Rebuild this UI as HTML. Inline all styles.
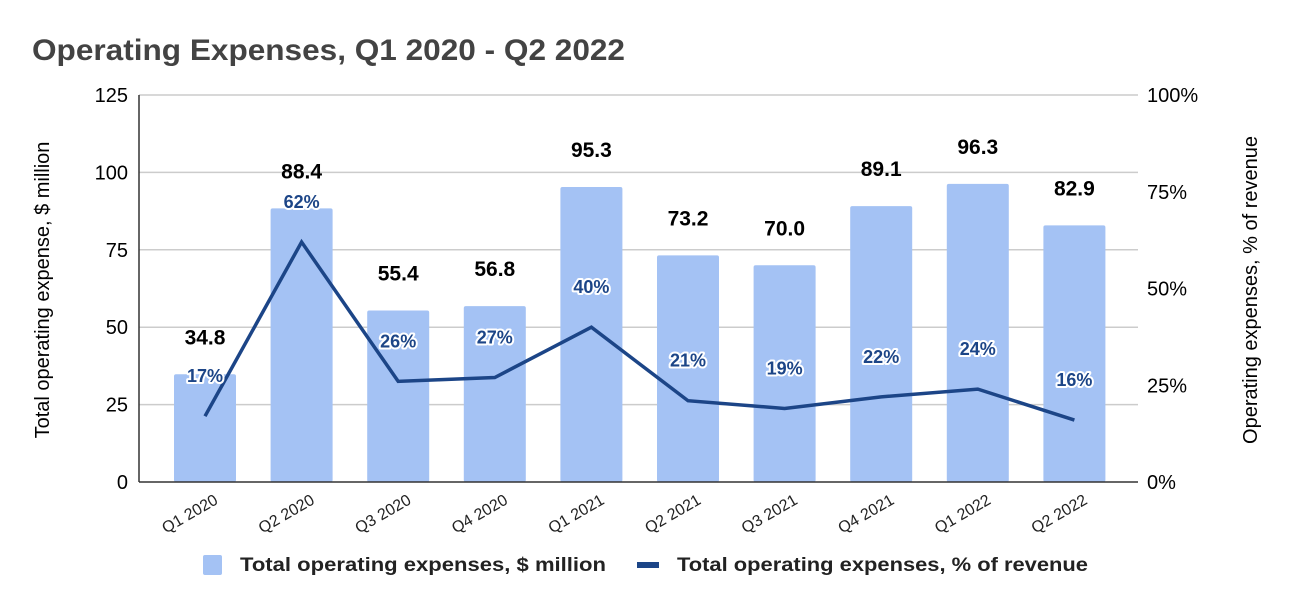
<!DOCTYPE html>
<html><head><meta charset="utf-8"><style>
html,body{margin:0;padding:0;background:#fff;}
svg{display:block;font-family:"Liberation Sans",Arial,sans-serif;}
</style></head><body>
<svg id="chart" width="1292" height="607" viewBox="0 0 1292 607" xmlns="http://www.w3.org/2000/svg">
<text x="32" y="60" font-size="30" font-weight="bold" fill="#434343" textLength="593" lengthAdjust="spacingAndGlyphs">Operating Expenses, Q1 2020 - Q2 2022</text>
<g id="grid"></g><g id="bars"></g><g id="line"></g><g id="labels"></g>
<text transform="translate(49,290) rotate(-90)" text-anchor="middle" font-size="20" fill="#000">Total operating expense, $ million</text>
<text transform="translate(1257,290) rotate(-90)" text-anchor="middle" font-size="20" fill="#000">Operating expenses, % of revenue</text>
<g>
<rect x="203" y="555" width="19" height="20" rx="2" fill="#a4c2f4"/>
<text x="240" y="571" font-size="19" font-weight="bold" fill="#222" textLength="366" lengthAdjust="spacingAndGlyphs">Total operating expenses, $ million</text>
<rect x="637" y="562" width="22" height="6" fill="#1c4587"/>
<text x="677" y="571" font-size="19" font-weight="bold" fill="#222" textLength="411" lengthAdjust="spacingAndGlyphs">Total operating expenses, % of revenue</text>
</g>
</svg>
<script>
const categories=["Q1 2020","Q2 2020","Q3 2020","Q4 2020","Q1 2021","Q2 2021","Q3 2021","Q4 2021","Q1 2022","Q2 2022"];
const expenses=[34.8,88.4,55.4,56.8,95.3,73.2,70.0,89.1,96.3,82.9];
const pctRevenue=[17,62,26,27,40,21,19,22,24,16];
const leftTicks=[0,25,50,75,100,125];
const rightTicks=[0,25,50,75,100];
const NS="http://www.w3.org/2000/svg";
const top0=95,bot0=482,left0=139,right0=1138;
const yL=v=>bot0-(v/125)*(bot0-top0);
const yR=v=>bot0-(v/100)*(bot0-top0);
const xC=i=>205+i*96.6;
function mk(tag,attrs,parent){const e=document.createElementNS(NS,tag);for(const k in attrs)e.setAttribute(k,attrs[k]);parent.appendChild(e);return e;}
const grid=document.getElementById('grid'),bars=document.getElementById('bars'),line=document.getElementById('line'),labels=document.getElementById('labels');
leftTicks.forEach(t=>{
  if(t>0){const g=mk('line',{x1:left0,x2:right0,y1:yL(t),y2:yL(t),stroke:'#cccccc','stroke-width':1.5},grid);
  
  }
  const tx=mk('text',{x:128,y:yL(t)+7,'text-anchor':'end','font-size':20,fill:'#000'},grid);tx.textContent=t;
  
  
});
rightTicks.forEach(t=>{
  const tx=mk('text',{x:1147,y:yR(t)+7,'font-size':20,fill:'#000'},grid);tx.textContent=t+'%';
  
  
});
const ax=mk('line',{x1:left0,x2:left0,y1:top0,y2:bot0,stroke:'#333','stroke-width':1.5},grid);


categories.forEach((c,i)=>{
  const b=mk('rect',{x:xC(i)-31,y:yL(expenses[i]),width:62,height:bot0-yL(expenses[i]),rx:2,fill:'#a4c2f4'},bars);
  
  
  const vl=mk('text',{x:xC(i),y:yL(expenses[i])-30,'text-anchor':'middle','font-size':21,'font-weight':'bold',fill:'#000'},labels);
  vl.textContent=expenses[i].toFixed(1);
  
  
  const pl=mk('text',{x:xC(i),y:yR(pctRevenue[i])-34,'text-anchor':'middle','font-size':18,'font-weight':'bold',fill:'#1c4587',stroke:'#fff','stroke-width':4,'paint-order':'stroke','stroke-linejoin':'round'},labels);
  pl.textContent=pctRevenue[i]+'%';
  
  
  const xl=mk('text',{transform:`translate(${xC(i)+14},${bot0+21}) rotate(-30)`,'text-anchor':'end','font-size':16,fill:'#222'},labels);
  xl.textContent=c;
  
  
});
const bx=mk('line',{x1:left0,x2:right0,y1:bot0,y2:bot0,stroke:'#333','stroke-width':1.5},bars);


const pts=pctRevenue.map((v,i)=>xC(i)+','+yR(v)).join(' ');
const pl=mk('polyline',{points:pts,fill:'none',stroke:'#1c4587','stroke-width':3.5,'stroke-linejoin':'miter'},line);


</script>
</body></html>
